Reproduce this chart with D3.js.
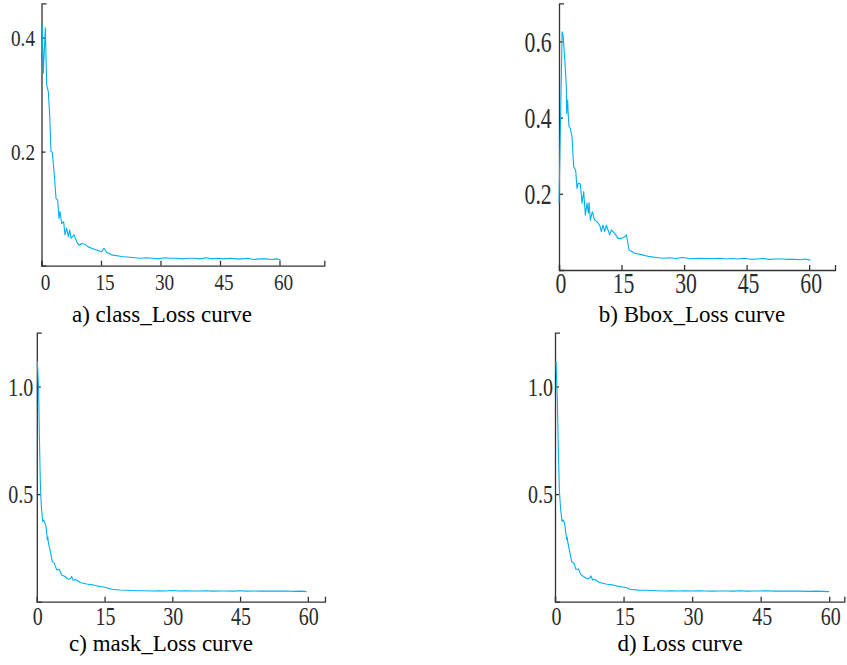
<!DOCTYPE html>
<html>
<head>
<meta charset="utf-8">
<script src="https://cdnjs.cloudflare.com/ajax/libs/d3/7.8.5/d3.min.js"></script>
<style>
  body { margin: 0; background: #fff; }
  .tick text { fill: #2b2b2b; }
  .domain, .tick line { stroke: #333; stroke-width: 1.3; }
  .caption { font-size: 23px; fill: #000; }
</style>
</head>
<body>
<div id="chart"></div>
<script>
var svgWidth = 847;
var svgHeight = 665;
var serifFont = "'Liberation Serif', 'DejaVu Serif', 'Noto Serif', serif";

// a) class loss
var classEpoch = [0.21, 0.46, 0.97, 1.3, 1.72, 2.06, 2.39, 2.73, 3.23, 3.66, 4.08, 4.41, 4.66, 5.08, 5.59, 5.92,
  6.34, 6.76, 7.1, 7.44, 8.19, 8.87, 9.45, 10.13, 10.97, 11.8, 12.65, 13.9, 15.17, 15.75, 16.43, 17.69,
  20.2, 23.57, 25, 26.5, 28, 29.5, 31, 32.5, 34, 35.5, 37, 38.5, 40, 41.5, 43, 44.5, 46, 47.5, 49,
  50.5, 52, 53.5, 55, 56.5, 58, 59.2, 60.3];
var classLoss = [0.422, 0.338, 0.417, 0.317, 0.305, 0.264, 0.200, 0.199, 0.159, 0.118, 0.115, 0.083, 0.095,
  0.074, 0.077, 0.054, 0.066, 0.051, 0.063, 0.048, 0.054, 0.042, 0.036, 0.039, 0.0375, 0.033, 0.0305,
  0.0275, 0.0246, 0.0305, 0.0235, 0.019, 0.016, 0.014, 0.013, 0.014, 0.013, 0.012, 0.014, 0.013, 0.013,
  0.012, 0.013, 0.013, 0.012, 0.014, 0.012, 0.013, 0.012, 0.013, 0.012, 0.012, 0.013, 0.011, 0.012,
  0.012, 0.011, 0.012, 0.010];

// b) Bbox loss
var bboxEpoch = [0, 0.75, 1.0, 1.44, 1.76, 1.84, 2.08, 2.2, 2.4, 2.7, 3.12, 3.52, 4.0, 4.32, 4.64, 5.12, 5.52,
  5.92, 6.32, 6.72, 7.04, 7.2, 7.52, 8.0, 8.56, 9.12, 9.76, 10.16, 10.56, 10.96, 11.36, 11.76, 12.16,
  12.56, 13.36, 14.16, 14.96, 15.76, 16.16, 16.8, 18.2, 20.2, 21.8, 23.4, 25, 26.5, 28, 29.5, 31, 32.5,
  34, 35.5, 37, 38.5, 40, 41.5, 43, 44.5, 46, 47.5, 49, 50.5, 52, 53.5, 55, 56.5, 58, 59, 60.3];
var bboxLoss = [0.175, 0.625, 0.615, 0.543, 0.481, 0.411, 0.446, 0.411, 0.376, 0.372, 0.350, 0.271, 0.262,
  0.214, 0.228, 0.226, 0.175, 0.206, 0.144, 0.175, 0.149, 0.177, 0.131, 0.153, 0.131, 0.127, 0.118,
  0.1005, 0.118, 0.1005, 0.118, 0.105, 0.092, 0.105, 0.096, 0.083, 0.083, 0.087, 0.092, 0.0525, 0.044,
  0.039, 0.035, 0.033, 0.031, 0.032, 0.030, 0.033, 0.031, 0.030, 0.031, 0.030, 0.030, 0.031, 0.029,
  0.030, 0.029, 0.031, 0.028, 0.029, 0.030, 0.028, 0.029, 0.029, 0.028, 0.028, 0.027, 0.029, 0.026];

// c) mask loss
var maskEpoch = [0.12, 0.41, 0.56, 0.78, 1.0, 1.3, 1.5, 1.67, 2.04, 2.33, 2.45, 2.55, 2.92, 3.44, 3.88, 4.4,
  4.98, 5.5, 6.24, 6.98, 7.5, 7.71, 8.08, 8.5, 8.82, 9.56, 10.3, 11.03, 11.8, 12.51, 13.2, 13.98, 14.7,
  15.46, 16.56, 18.4, 20.2, 22.1, 24, 25.5, 27, 28.5, 30, 31.5, 33, 34.5, 36, 37.5, 39, 40.5, 42, 43.5,
  45, 46.5, 48, 49.5, 51, 52.5, 54, 55.5, 57, 58.5, 59.7];
var maskLoss = [1.118, 0.986, 0.785, 0.552, 0.443, 0.373, 0.380, 0.373, 0.350, 0.288, 0.300, 0.275, 0.241,
  0.186, 0.179, 0.148, 0.151, 0.124, 0.117, 0.104, 0.108, 0.117, 0.098, 0.103, 0.101, 0.089, 0.086,
  0.082, 0.080, 0.078, 0.074, 0.070, 0.068, 0.065, 0.058, 0.0545, 0.053, 0.051, 0.051, 0.050, 0.051,
  0.050, 0.052, 0.050, 0.051, 0.050, 0.050, 0.051, 0.049, 0.050, 0.050, 0.049, 0.051, 0.049, 0.050,
  0.049, 0.050, 0.049, 0.049, 0.050, 0.048, 0.049, 0.047];

// d) total loss
var totalEpoch = [0.22, 0.51, 0.73, 0.95, 1.24, 1.53, 1.75, 1.97, 2.19, 2.55, 2.65, 2.77, 3.13, 3.65, 4.15,
  4.59, 5.17, 5.61, 6.2, 7.07, 7.6, 7.87, 8.24, 8.6, 8.97, 9.69, 10.4, 11.15, 11.9, 12.61, 13.3, 14.07,
  14.8, 15.53, 16.4, 18.22, 20.2, 22.2, 24, 25.5, 27, 28.5, 30, 31.5, 33, 34.5, 36, 37.5, 39, 40.5, 42,
  43.5, 45, 46.5, 48, 49.5, 51, 52.5, 54, 55.5, 57, 58.5, 60];
var totalLoss = [1.118, 0.940, 0.707, 0.520, 0.427, 0.373, 0.380, 0.373, 0.350, 0.288, 0.300, 0.280, 0.241,
  0.186, 0.179, 0.150, 0.152, 0.127, 0.117, 0.107, 0.110, 0.120, 0.101, 0.104, 0.100, 0.090, 0.086,
  0.082, 0.080, 0.078, 0.074, 0.070, 0.068, 0.066, 0.058, 0.054, 0.053, 0.051, 0.050, 0.051, 0.050,
  0.051, 0.050, 0.051, 0.050, 0.049, 0.050, 0.050, 0.049, 0.051, 0.049, 0.050, 0.050, 0.051, 0.049,
  0.050, 0.049, 0.050, 0.049, 0.048, 0.049, 0.048, 0.047];

var xTicks = [0, 15, 30, 45, 60];
var classTicks = [0.2, 0.4];
var bboxTicks = [0.2, 0.4, 0.6];
var maskTicks = [0.5, 1.0];
var totalTicks = [0.5, 1.0];

var captions = ["a) class_Loss curve", "b) Bbox_Loss curve", "c) mask_Loss curve", "d) Loss curve"];

// panel layout (pixel box of each axes, plus tick label styling)
var panels = [
  { x: classEpoch, y: classLoss, yTicks: classTicks, caption: captions[0],
    left: 41.5, right: 324.3, top: 3.3, bottom: 265.7, xMax: 71.3, yMax: 0.46,
    font: 24, sx: 0.8, xLab: 24.3, xShift: 3.5, yGap: 6.5, capX: 162, capY: 322 },
  { x: bboxEpoch, y: bboxLoss, yTicks: bboxTicks, caption: captions[1],
    left: 559, right: 835, top: 3.3, bottom: 270, xMax: 66.2, yMax: 0.70,
    font: 29, sx: 0.75, xLab: 23.3, xShift: 1.5, yGap: 7.3, capX: 692, capY: 322 },
  { x: maskEpoch, y: maskLoss, yTicks: maskTicks, caption: captions[2],
    left: 36.8, right: 325, top: 332.7, bottom: 601.7, xMax: 63.8, yMax: 1.25,
    font: 25, sx: 0.8, xLab: 23.3, xShift: 0.5, yGap: 3.5, capX: 161, capY: 651 },
  { x: totalEpoch, y: totalLoss, yTicks: totalTicks, caption: captions[3],
    left: 555, right: 844.3, top: 332.7, bottom: 601.7, xMax: 63.3, yMax: 1.25,
    font: 25, sx: 0.8, xLab: 23.3, xShift: 1, yGap: 2, capX: 680, capY: 651 }
];

var svg = d3.select("#chart")
  .append("svg")
  .attr("width", svgWidth)
  .attr("height", svgHeight);

panels.forEach(function(p) {
  var xScale = d3.scaleLinear().domain([0, p.xMax]).range([p.left, p.right]);
  var yScale = d3.scaleLinear().domain([0, p.yMax]).range([p.bottom, p.top]);

  // ticks point inward, with a tick at the far end of each axis
  var xAxis = svg.append("g")
    .attr("transform", `translate(0, ${p.bottom})`)
    .call(d3.axisBottom(xScale).tickValues(xTicks).tickSize(-5).tickSizeOuter(-5).tickFormat(d3.format("d")));

  xAxis.attr("font-family", serifFont);
  xAxis.selectAll(".tick text")
    .attr("dy", null)
    .attr("y", p.xLab)
    .attr("font-family", serifFont)
    .attr("transform", `translate(${p.xShift}, 0) scale(${p.sx}, 1)`)
    .style("font-size", p.font + "px");

  var yAxis = svg.append("g")
    .attr("transform", `translate(${p.left}, 0)`)
    .call(d3.axisLeft(yScale).tickValues(p.yTicks).tickSize(-4).tickSizeOuter(-5).tickFormat(d3.format(".1f")));

  yAxis.attr("font-family", serifFont);
  yAxis.selectAll(".tick text")
    .attr("x", 0)
    .attr("dy", "0.34em")
    .attr("font-family", serifFont)
    .attr("transform", `translate(${-p.yGap}, 0) scale(${p.sx}, 1)`)
    .style("font-size", p.font + "px");

  xAxis.select(".domain").attr("fill", "none");
  yAxis.select(".domain").attr("fill", "none");

  var line = d3.line()
    .x((d, i) => xScale(p.x[i]))
    .y(d => yScale(d));

  svg.append("path")
    .datum(p.y)
    .attr("d", line)
    .attr("fill", "none")
    .attr("stroke", "#00b0f0")
    .attr("stroke-width", 1.1)
    .attr("stroke-linejoin", "round");

  svg.append("text")
    .attr("class", "caption")
    .attr("x", p.capX)
    .attr("y", p.capY)
    .attr("text-anchor", "middle")
    .attr("font-family", serifFont)
    .text(p.caption);
});
</script>
</body>
</html>
